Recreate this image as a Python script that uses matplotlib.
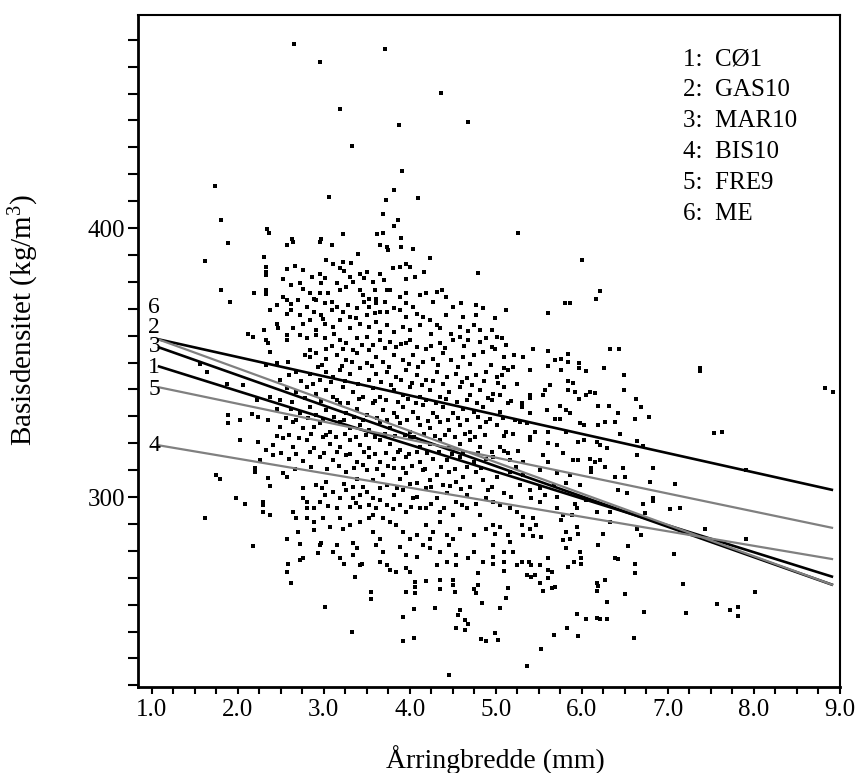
import matplotlib
matplotlib.use("Agg")
import matplotlib.pyplot as plt
import numpy as np
from matplotlib.ticker import MultipleLocator, FixedLocator

plt.rcParams['font.family'] = ['Liberation Serif', 'DejaVu Serif']
plt.rcParams['mathtext.fontset'] = 'custom'
plt.rcParams['mathtext.rm'] = 'Liberation Serif'
plt.rcParams['mathtext.it'] = 'Liberation Serif'

# ---------------- data ----------------
series_ids = ['1', '2', '3', '4', '5', '6']
series_names = ['CØ1', 'GAS10', 'MAR10', 'BIS10', 'FRE9', 'ME']
line_x = [1.07, 8.92]
line_y_start = [348.7, 358.7, 355.8, 319.3, 340.9, 358.7]
line_y_end = [270.3, 302.6, 267.3, 276.9, 288.5, 267.3]
label_y = [348.0, 363.2, 355.8, 319.0, 340.1, 370.6]

pts_upper = [(2.65, 468.5), (2.96, 461.6), (3.71, 466.4), (4.36, 450.2), (4.68, 439.4),
             (3.19, 444.3), (3.87, 438.2), (3.33, 430.6), (3.91, 421.2), (1.73, 415.5),
             (3.82, 414.1), (3.06, 411.7), (3.72, 410.4), (4.10, 411.2), (1.81, 403.0),
             (3.69, 405.1), (3.86, 403.1), (3.81, 400.6), (2.34, 399.5), (2.36, 398.0),
             (3.22, 397.8), (3.62, 397.8), (3.69, 398.2), (3.90, 396.2), (2.63, 395.8),
             (2.97, 396.1), (5.26, 398.0)]

pts_core = [
    (1.89, 394.5), (2.57, 393.7), (2.64, 394.9), (2.95, 394.9), (3.09, 393.7), (3.73, 393.0),
    (3.75, 391.8), (3.90, 393.0), (4.04, 392.4), (3.65, 393.7),
    (2.31, 389.3), (1.62, 387.8), (3.03, 388.1), (3.11, 386.8), (3.22, 387.5), (3.32, 387.1),
    (3.40, 390.5), (4.23, 388.7), (4.79, 383.4),
    (2.33, 385.6), (2.33, 383.7), (2.33, 382.5), (2.57, 384.6), (2.67, 385.8), (2.76, 384.4),
    (2.95, 383.1), (3.19, 385.0), (3.30, 381.9), (3.42, 383.1), (3.50, 383.7), (3.65, 383.1),
    (3.80, 385.0), (3.88, 385.6), (3.96, 386.8), (4.00, 385.6), (4.06, 381.9), (4.17, 383.7),
    (2.72, 379.4), (2.97, 379.4), (3.01, 381.3), (3.15, 379.4), (3.34, 380.0), (3.57, 380.0),
    (1.80, 376.9), (2.19, 375.9), (2.33, 376.9), (2.33, 375.4), (2.62, 378.8), (2.76, 377.5),
    (2.84, 375.7), (2.95, 375.7), (3.05, 375.7), (3.19, 376.9), (3.26, 378.2), (3.42, 376.9),
    (3.59, 376.9), (3.73, 376.9), (3.77, 376.9), (3.88, 374.4), (3.96, 375.7), (4.12, 375.1),
    (4.19, 375.7), (4.31, 376.3), (4.37, 376.9), (3.46, 375.1), (3.53, 373.8), (3.61, 373.8),
    (2.88, 373.8), (2.70, 373.2), (2.53, 374.4), (2.57, 373.2),
    (1.91, 372.6), (2.45, 371.3), (2.62, 369.5), (2.80, 370.7), (2.91, 373.2), (3.01, 372.0),
    (3.09, 372.6), (3.15, 370.7), (3.28, 371.3), (3.38, 370.1), (3.53, 370.7), (3.61, 372.0),
    (3.71, 372.6), (3.81, 370.1), (3.88, 369.5), (4.04, 370.7), (4.08, 368.2), (4.27, 372.6),
    (4.50, 370.7), (4.60, 372.0), (4.77, 371.3), (4.85, 370.1), (2.37, 369.5), (2.57, 368.2),
    (2.72, 367.6), (2.88, 368.9), (2.97, 367.6), (3.09, 369.5), (3.22, 368.9), (3.30, 367.0),
    (3.50, 367.6), (3.65, 368.9), (3.73, 368.9), (4.15, 367.0), (4.23, 365.8), (4.31, 363.9),
    (4.62, 367.0), (4.77, 367.6),
    (2.45, 364.5), (2.64, 362.7), (2.76, 364.5), (2.84, 365.8), (2.91, 362.0), (3.01, 364.5),
    (3.11, 363.3), (3.19, 365.8), (3.30, 362.7), (3.42, 364.5), (3.53, 363.3), (3.61, 365.1),
    (3.73, 363.9), (3.81, 361.4), (3.92, 363.3), (4.00, 362.0), (4.12, 363.9), (4.35, 362.7),
    (4.48, 360.8), (4.58, 363.3), (4.74, 363.9), (4.81, 362.0), (2.12, 360.6), (2.31, 362.0),
    (2.47, 362.7),
    (2.18, 359.6), (2.33, 358.3), (2.35, 357.1), (2.57, 358.3), (2.72, 360.2), (2.80, 359.0),
    (2.91, 360.2), (3.01, 359.0), (3.19, 358.3), (3.26, 357.1), (3.38, 359.0), (3.50, 359.6),
    (3.57, 356.5), (3.65, 358.3), (3.77, 357.7), (3.84, 355.8), (3.96, 357.1), (4.00, 358.3),
    (4.08, 355.8), (4.19, 355.2), (4.35, 357.1), (4.50, 358.3), (4.58, 359.6), (4.68, 358.3),
    (4.81, 357.7), (4.89, 359.0), (2.84, 354.6), (3.03, 355.2), (3.22, 355.2), (3.34, 354.6),
    (3.53, 354.6),
    (2.37, 354.0), (2.78, 352.8), (2.84, 352.1), (2.91, 353.4), (3.03, 351.5), (3.15, 352.8),
    (3.26, 350.9), (3.38, 353.4), (3.50, 349.7), (3.61, 352.1), (3.69, 350.3), (3.81, 352.8),
    (3.92, 350.9), (4.04, 352.8), (4.15, 350.3), (4.27, 351.5), (4.39, 353.4), (4.48, 350.9),
    (4.62, 352.1), (4.74, 352.8), (4.85, 354.0), (2.33, 349.0), (2.45, 349.7), (1.56, 349.4),
    (2.58, 350.3),
    (2.60, 345.3), (2.68, 346.5), (2.84, 345.9), (2.93, 348.4), (3.03, 346.5), (3.11, 344.7),
    (3.19, 347.2), (3.30, 345.9), (3.42, 347.8), (3.53, 343.5), (3.61, 345.9), (3.73, 346.5),
    (3.84, 344.7), (3.96, 347.2), (4.08, 345.3), (4.19, 343.5), (4.31, 346.5), (4.43, 344.7),
    (4.54, 345.9), (4.66, 344.1), (4.77, 345.3), (4.89, 346.5), (2.95, 343.5), (2.49, 343.5),
    (1.64, 346.5), (1.87, 342.2), (2.06, 341.6),
    (2.57, 340.4), (2.68, 339.1), (2.80, 341.0), (2.91, 338.5), (3.03, 339.7), (3.11, 337.3),
    (3.22, 341.0), (3.34, 339.1), (3.46, 337.3), (3.57, 340.4), (3.65, 337.3), (3.81, 339.7),
    (3.92, 337.9), (4.00, 341.0), (4.12, 337.3), (4.23, 339.7), (4.35, 337.3), (4.46, 339.1),
    (4.58, 341.0), (4.70, 337.9), (4.81, 339.7), (4.91, 336.7), (2.37, 337.3), (2.49, 336.0),
    (2.22, 336.0),
    (1.89, 330.4), (2.16, 330.8), (2.24, 329.8), (2.35, 328.6), (2.45, 332.9), (2.62, 332.9),
    (2.72, 331.1), (2.84, 333.5), (2.91, 330.4), (3.03, 332.3), (3.19, 334.8), (3.26, 331.1),
    (3.38, 332.9), (3.50, 330.4), (3.57, 334.8), (3.69, 332.3), (3.81, 331.1), (3.92, 333.5),
    (4.04, 331.7), (4.15, 334.2), (4.27, 331.1), (4.39, 333.5), (4.50, 331.1), (4.62, 332.9),
    (4.74, 331.7), (4.85, 333.5),
    (1.89, 327.4), (2.02, 328.6), (2.49, 326.1), (2.64, 328.0), (2.76, 325.5), (2.88, 326.1),
    (2.95, 327.4), (3.07, 324.3), (3.19, 328.0), (3.30, 325.5), (3.42, 326.7), (3.53, 324.9),
    (3.65, 328.0), (3.77, 325.5), (3.88, 327.4), (4.00, 324.3), (4.12, 326.7), (4.23, 325.5),
    (4.35, 328.0), (4.46, 324.9), (4.58, 326.7), (4.70, 324.3), (4.81, 326.1), (4.89, 328.0),
    (2.02, 321.4), (2.24, 320.5), (2.33, 317.4), (2.41, 319.3), (2.53, 321.8), (2.64, 318.7),
    (2.80, 321.2), (2.88, 318.1), (2.99, 322.4), (3.07, 319.9), (3.19, 318.7), (3.30, 321.2),
    (3.42, 319.3), (3.53, 318.1), (3.65, 321.2), (3.77, 319.9), (3.88, 317.4), (4.00, 321.8),
    (4.12, 318.7), (4.23, 319.9), (4.35, 321.2), (4.46, 318.1), (4.58, 319.9), (4.70, 321.2),
    (4.81, 318.7),
    (2.26, 313.7), (2.41, 315.6), (2.60, 314.3), (2.76, 313.5), (2.95, 315.0), (3.11, 313.7),
    (3.26, 315.6), (3.38, 313.1), (3.53, 315.0), (3.65, 313.1), (3.81, 314.3), (3.96, 315.0),
    (4.12, 313.1), (4.27, 314.3), (4.43, 313.7), (4.58, 315.0), (4.74, 313.1), (4.89, 314.3),
]

pts_core_extra = [
    (3.10, 356.0), (3.44, 356.4), (3.71, 355.5), (3.90, 356.8), (4.25, 356.0), (4.41, 355.4),
    (4.63, 356.2), (4.95, 355.7), (5.12, 356.4),
    (2.98, 349.2), (3.21, 348.6), (3.33, 350.2), (3.56, 348.9), (3.76, 348.5), (3.99, 349.3),
    (4.10, 348.2), (4.33, 349.0), (4.56, 348.3), (4.70, 349.6), (4.94, 349.0), (5.20, 348.4),
    (2.74, 343.0), (2.87, 342.1), (3.08, 342.7), (3.25, 343.2), (3.40, 342.0), (3.67, 342.6),
    (3.78, 341.8), (3.90, 343.4), (4.02, 342.3), (4.14, 341.7), (4.27, 343.0), (4.38, 342.1),
    (4.61, 342.6), (4.72, 341.6), (4.86, 343.1), (5.03, 342.4), (5.25, 341.9),
    (2.63, 335.5), (2.78, 336.9), (2.97, 335.6), (3.15, 336.2), (3.28, 335.0), (3.41, 336.4),
    (3.59, 335.7), (3.72, 336.0), (3.86, 335.2), (3.98, 336.6), (4.07, 335.0), (4.19, 336.1),
    (4.30, 334.9), (4.42, 336.4), (4.55, 335.3), (4.66, 336.0), (4.78, 335.0), (4.96, 336.2),
    (5.18, 335.8),
    (2.56, 329.5), (2.68, 328.6), (2.82, 329.3), (2.99, 328.9), (3.12, 329.7), (3.24, 328.5),
    (3.35, 329.8), (3.46, 328.7), (3.62, 329.4), (3.74, 328.6), (3.85, 329.8), (3.97, 328.8),
    (4.09, 329.5), (4.21, 328.4), (4.32, 329.6), (4.44, 328.8), (4.56, 329.4), (4.67, 328.5),
    (4.79, 329.7), (4.93, 328.9), (5.08, 329.5), (5.22, 328.6),
    (2.45, 322.6), (2.59, 323.0), (2.71, 322.1), (2.85, 323.3), (3.02, 322.9), (3.14, 322.2),
    (3.25, 323.4), (3.37, 322.5), (3.49, 323.1), (3.60, 322.3), (3.71, 323.5), (3.83, 322.6),
    (3.94, 323.2), (4.05, 322.4), (4.17, 323.4), (4.29, 322.7), (4.41, 323.0), (4.52, 322.2),
    (4.64, 323.3), (4.76, 322.5), (4.87, 323.1), (5.10, 322.8),
    (2.50, 316.4), (2.68, 316.0), (2.84, 316.6), (3.00, 316.2), (3.15, 316.8), (3.30, 316.1),
    (3.47, 316.7), (3.59, 316.0), (3.72, 316.5), (3.86, 316.9), (3.99, 316.0), (4.08, 316.6),
    (4.20, 316.2), (4.34, 316.8), (4.49, 316.1), (4.62, 316.7), (4.79, 316.3), (4.95, 316.8),
    (5.14, 316.3),
    (2.66, 310.6), (2.85, 311.0), (3.04, 310.3), (3.18, 311.4), (3.35, 310.8), (3.45, 311.9),
    (3.62, 310.5), (3.75, 311.6), (3.92, 310.9), (4.02, 311.7), (4.18, 310.5), (4.36, 311.1),
    (4.52, 310.4), (4.67, 311.3), (4.83, 310.7), (5.23, 311.2),
    (2.98, 303.5), (3.23, 304.8), (3.46, 303.9), (3.74, 304.6), (3.85, 303.3), (4.00, 304.9),
    (4.25, 303.6), (4.47, 304.3), (4.60, 302.9), (4.96, 303.8),
    (3.05, 296.6), (3.37, 297.8), (3.53, 296.9), (3.80, 295.6), (4.01, 296.4), (4.24, 297.3),
    (4.40, 296.0), (4.61, 297.0),
    (2.52, 381.0), (2.86, 381.9), (3.24, 383.9), (3.47, 381.6), (3.70, 380.7), (3.96, 381.2),
    (2.62, 371.9), (3.47, 372.6), (3.95, 372.3), (4.42, 374.3), (2.99, 366.2), (3.37, 366.6),
    (3.59, 368.3), (3.96, 366.9), (4.42, 367.6), (2.57, 360.2), (3.12, 360.8), (3.65, 361.5),
    (4.25, 360.5), (4.68, 361.6),
]

pts_right = [
    (6.00, 388.3), (6.21, 376.7), (6.16, 373.8), (5.80, 372.0), (5.86, 372.0), (5.61, 368.5),
    (5.12, 369.5), (4.99, 366.4), (4.95, 362.0), (5.01, 359.6), (5.07, 359.0), (4.99, 355.2),
    (5.43, 355.0), (5.61, 354.2), (5.84, 353.1), (6.33, 354.9), (6.43, 354.9), (5.10, 352.1),
    (5.21, 352.8), (5.32, 352.1), (5.69, 350.9), (5.76, 351.3), (5.84, 350.3), (5.97, 349.7),
    (7.37, 347.8), (7.37, 347.0), (8.82, 340.6), (8.92, 339.1), (5.61, 348.7), (5.76, 347.4),
    (5.97, 347.8), (6.05, 347.0), (6.26, 348.0), (6.49, 345.3), (5.10, 347.8), (5.14, 347.2),
    (5.40, 347.2), (5.01, 344.7), (5.07, 345.3), (5.10, 341.0), (5.63, 341.6), (5.84, 343.2),
    (5.90, 342.5), (5.57, 339.7), (5.55, 337.9), (5.40, 337.9), (5.40, 336.7), (5.84, 339.7),
    (5.92, 339.1), (6.09, 339.1), (6.15, 338.8), (6.05, 337.9), (5.97, 336.3), (6.49, 339.7),
    (6.63, 336.3), (4.97, 338.5), (5.05, 337.9), (5.14, 334.8), (5.30, 335.0), (5.30, 333.5),
    (5.59, 332.3), (5.74, 333.9), (5.82, 332.3), (5.86, 331.1), (6.19, 333.9), (6.31, 333.9),
    (6.69, 333.3), (6.78, 329.8), (6.42, 331.1), (6.62, 329.2), (6.27, 328.0), (6.38, 328.0),
    (5.40, 331.1), (5.05, 331.7), (5.69, 329.2), (5.74, 329.2), (5.98, 327.6), (6.03, 326.7),
    (6.19, 326.7), (7.53, 323.9), (7.63, 324.3), (5.36, 327.4), (5.28, 328.0), (5.01, 326.7),
    (5.12, 324.3), (5.20, 323.6), (5.45, 324.3), (5.61, 324.3), (6.44, 323.6), (5.82, 324.3),
    (5.96, 320.5), (6.02, 321.2), (6.17, 320.5), (6.21, 319.3), (6.64, 320.8), (6.71, 318.9),
    (5.40, 321.2), (5.40, 322.4), (5.61, 320.2), (5.71, 319.3), (6.29, 318.1), (5.05, 318.7),
    (5.10, 317.2), (5.26, 317.2), (5.55, 315.6), (5.78, 316.2), (5.90, 313.7), (5.96, 313.7),
    (6.09, 314.3), (6.15, 313.1), (6.64, 315.6), (6.21, 313.7), (4.97, 315.0), (5.16, 313.7),
    (5.32, 313.1), (5.61, 313.1),
]

pts_lower_left = [
    (1.75, 308.2), (1.79, 306.9), (2.20, 310.7), (2.20, 309.4), (2.35, 307.2), (2.53, 308.8),
    (2.57, 307.6), (2.37, 304.2), (2.76, 303.2), (2.76, 299.5), (2.91, 304.5), (3.03, 305.7),
    (1.98, 299.8), (2.08, 297.3), (2.29, 298.3), (2.29, 297.0), (2.29, 294.6), (2.37, 293.3),
    (1.62, 292.4), (2.18, 281.8), (2.64, 294.6), (2.68, 292.1), (2.80, 298.3), (2.80, 295.8),
    (2.88, 295.8), (2.95, 298.3), (3.01, 300.7), (3.11, 302.0), (3.19, 299.5), (3.26, 302.6),
    (3.34, 299.5), (3.42, 300.7), (3.15, 295.8), (3.30, 296.4), (3.42, 296.4), (2.80, 292.1),
    (2.88, 290.8), (2.99, 292.1), (3.07, 289.0), (3.19, 292.1), (3.22, 288.3), (3.30, 289.6),
    (3.42, 290.8), (3.53, 292.1), (2.57, 284.6), (2.72, 282.5), (2.70, 287.1), (2.88, 287.7),
    (2.97, 282.8), (2.95, 282.2), (3.15, 282.2), (2.76, 277.5), (2.72, 276.6), (2.93, 279.1),
    (3.11, 279.4), (3.19, 277.2), (3.24, 275.1), (3.34, 282.8), (3.38, 280.9), (3.34, 278.4),
    (3.42, 274.7), (3.44, 275.3), (2.58, 275.0), (2.57, 272.0), (2.62, 268.2), (3.01, 259.2),
    (3.33, 249.9), (3.36, 270.4), (3.55, 264.6), (3.55, 262.1), (3.57, 287.1), (3.65, 284.6),
    (3.61, 282.2), (3.69, 279.7), (3.65, 276.0), (3.73, 274.7), (3.77, 272.9), (3.84, 272.2),
    (3.57, 299.5), (3.65, 298.9), (3.73, 297.0), (3.61, 295.8), (3.57, 293.3), (3.69, 292.1),
    (3.77, 290.8), (3.84, 289.6), (3.88, 297.0), (3.96, 294.6), (4.04, 299.5), (4.12, 295.8),
    (3.92, 287.1), (4.00, 284.6), (4.08, 285.9), (4.15, 282.2), (3.88, 281.5), (3.96, 278.4),
    (4.08, 277.8), (3.96, 273.5), (4.00, 272.2), (4.19, 289.6), (4.27, 287.1), (4.35, 290.8),
    (4.43, 285.9), (4.23, 280.9), (4.35, 279.7), (4.46, 282.2), (4.54, 278.4), (4.31, 274.7),
    (4.43, 276.0), (4.54, 274.7), (4.68, 277.2), (4.74, 279.7), (4.85, 276.0), (4.79, 271.6),
    (4.06, 268.5), (4.06, 266.7), (4.06, 264.2), (4.19, 268.8), (4.35, 269.2), (4.35, 265.8),
    (4.50, 269.2), (4.50, 267.3), (4.52, 264.8), (4.74, 266.0), (4.79, 267.3), (4.77, 264.2),
    (4.84, 260.5), (3.95, 264.8), (4.05, 258.4), (4.29, 258.6), (3.92, 255.3), (4.58, 258.0),
    (4.56, 256.1), (4.64, 254.3), (4.68, 252.7), (4.54, 251.2), (4.64, 250.6), (3.92, 246.6),
    (4.05, 247.5), (4.83, 247.2), (4.89, 246.5), (4.45, 233.8),
    (3.26, 309.4), (3.38, 306.9), (3.50, 310.0), (3.57, 306.3), (3.69, 308.2), (3.81, 310.7),
    (3.88, 306.9), (3.96, 308.8), (4.08, 305.1), (4.15, 310.0), (4.23, 306.3), (4.31, 308.2),
    (4.39, 304.5), (4.46, 309.4), (4.54, 305.7), (4.62, 307.6), (4.70, 303.8), (4.77, 309.4),
    (4.85, 306.3), (4.91, 302.6),
    (3.34, 303.8), (3.50, 302.0), (3.65, 303.2), (3.81, 300.7), (3.92, 302.6), (4.08, 300.1),
    (4.19, 303.2), (4.31, 299.5), (4.43, 301.4), (4.54, 298.3), (4.66, 300.7), (4.77, 297.6),
    (4.89, 299.5), (4.19, 295.8), (4.35, 294.6), (4.50, 293.3), (4.66, 295.8), (4.81, 293.3),
    (4.58, 288.3), (4.74, 285.9), (4.89, 288.3), (4.50, 284.6), (4.23, 284.6),
]

pts_lower_right = [
    (6.11, 310.7), (6.11, 309.4), (6.27, 311.3), (6.48, 310.7), (6.83, 310.7), (6.38, 307.6),
    (6.50, 307.6), (6.79, 305.7), (7.08, 304.7), (6.42, 302.6), (6.52, 301.4), (6.83, 299.5),
    (6.83, 298.5), (6.71, 297.6), (7.02, 295.4), (7.14, 295.8), (6.73, 293.9), (6.33, 294.6),
    (6.33, 290.8), (6.64, 288.3), (6.69, 285.9), (7.43, 288.1), (7.91, 284.6), (7.07, 278.7),
    (6.53, 281.8), (6.38, 277.2), (6.42, 276.8), (6.62, 275.3), (6.62, 271.6), (6.19, 282.2),
    (6.25, 286.1), (5.98, 279.7), (5.99, 277.2), (5.99, 275.3), (5.91, 276.0), (5.84, 274.1),
    (5.82, 280.9), (5.86, 284.4), (5.94, 289.0), (5.96, 286.1), (5.78, 284.0), (5.61, 277.2),
    (5.51, 274.7), (5.61, 272.9), (5.65, 272.0), (5.38, 276.0), (5.41, 274.7), (5.30, 276.0),
    (5.24, 274.7), (5.36, 271.0), (5.41, 270.4), (5.45, 271.0), (5.61, 269.8), (5.51, 267.9),
    (5.65, 266.3), (5.69, 266.7), (5.55, 265.1), (6.17, 267.9), (6.19, 267.0), (6.27, 269.2),
    (6.17, 265.1), (6.50, 263.8), (6.29, 261.1), (7.17, 267.7), (8.01, 264.8), (7.57, 260.1),
    (7.72, 258.0), (7.81, 259.2), (7.81, 255.9), (7.21, 257.0), (6.72, 257.1), (5.94, 256.5),
    (6.05, 254.5), (6.17, 254.9), (6.21, 254.7), (6.29, 254.5), (5.83, 251.2), (5.67, 248.9),
    (5.96, 248.5), (6.60, 247.8), (5.53, 243.7), (5.36, 237.2), (4.99, 249.3), (5.03, 246.8),
    (5.05, 258.6), (5.12, 262.3), (5.14, 266.1), (5.10, 272.5), (5.10, 276.0), (4.97, 277.8),
    (4.97, 275.3), (5.20, 279.7), (5.09, 279.4), (4.97, 282.2), (5.16, 283.4), (4.99, 286.1),
    (5.14, 285.9), (5.32, 285.9), (5.43, 285.6), (5.53, 285.3), (4.97, 289.6), (5.05, 289.0),
    (5.30, 289.6), (5.40, 288.3), (5.47, 289.6), (5.76, 291.5), (5.82, 287.1), (5.24, 294.6),
    (5.32, 292.7), (5.43, 292.1), (5.71, 295.8), (5.78, 293.3), (5.88, 293.3), (5.94, 295.8),
    (4.97, 298.3), (5.05, 297.0), (5.16, 295.8), (5.41, 299.5), (5.51, 298.3), (5.57, 300.7),
    (5.71, 300.1), (5.09, 301.4), (5.18, 300.1), (5.28, 304.5), (5.40, 302.6), (5.51, 303.2),
    (5.67, 304.5), (5.82, 305.1), (5.98, 304.5), (5.71, 308.8), (5.86, 308.2), (5.51, 310.0),
    (5.32, 308.2), (5.16, 309.4), (5.01, 307.6), (5.92, 297.6), (6.05, 298.9), (6.17, 294.6),
    (7.91, 310.2),
]

x_ticks = [1.0, 2.0, 3.0, 4.0, 5.0, 6.0, 7.0, 8.0, 9.0]
y_ticks = [300, 400]

# ---------------- figure ----------------
fig = plt.figure(figsize=(8.6, 7.73), dpi=100)
ax = fig.add_axes([138 / 860, 1 - 687 / 773, 702 / 860, 672 / 773])

all_pts = np.array(pts_upper + pts_core + pts_core_extra + pts_right
                   + pts_lower_left + pts_lower_right)
dash_marker = [(-1.0, -0.7), (1.0, -0.7), (1.0, 0.7), (-1.0, 0.7)]
ax.scatter(all_pts[:, 0], all_pts[:, 1], s=11, marker=dash_marker, color='black',
           linewidths=0, zorder=2)

styles = [dict(color='black', lw=1.9), dict(color='black', lw=1.9),
          dict(color='black', lw=1.9), dict(color='0.5', lw=1.6),
          dict(color='0.5', lw=1.6), dict(color='0.5', lw=1.6)]
for i in range(len(series_ids)):
    ax.plot(line_x, [line_y_start[i], line_y_end[i]], zorder=3,
            solid_capstyle='butt', **styles[i])
    ax.text(1.03, label_y[i], series_ids[i], fontsize=17, ha='center',
            va='center', zorder=4)

for i in range(len(series_ids)):
    ax.text(0.776, 0.9345 - i * (31 / 672), f"{series_ids[i]}:  {series_names[i]}",
            transform=ax.transAxes, fontsize=18, ha='left', va='center')

ax.set_xlim(0.84, 9.0)
ax.set_ylim(229.4, 479.2)
ax.xaxis.set_major_locator(FixedLocator(x_ticks))
ax.set_xticklabels([f"{v:.1f}" for v in x_ticks])
ax.xaxis.set_minor_locator(MultipleLocator(0.25))
ax.yaxis.set_major_locator(FixedLocator(y_ticks))
ax.yaxis.set_minor_locator(MultipleLocator(10))
ax.tick_params(which='both', direction='out', length=7, width=1.5,
               labelsize=18, top=False, right=False)
ax.tick_params(axis='y', which='both', pad=2)
ax.tick_params(axis='x', which='both', length=5)
for side in ['left', 'bottom']:
    ax.spines[side].set_linewidth(2.0)
for side in ['top', 'right']:
    ax.spines[side].set_linewidth(1.5)

ax.set_xlabel('Årringbredde (mm)', fontsize=20)
ax.set_ylabel(r'Basisdensitet (kg/m$^{3}$)', fontsize=21)
ax.xaxis.set_label_coords(0.509, -0.086)
ax.yaxis.set_label_coords(-0.138, 0.546)

fig.savefig('out.png', dpi=100)
